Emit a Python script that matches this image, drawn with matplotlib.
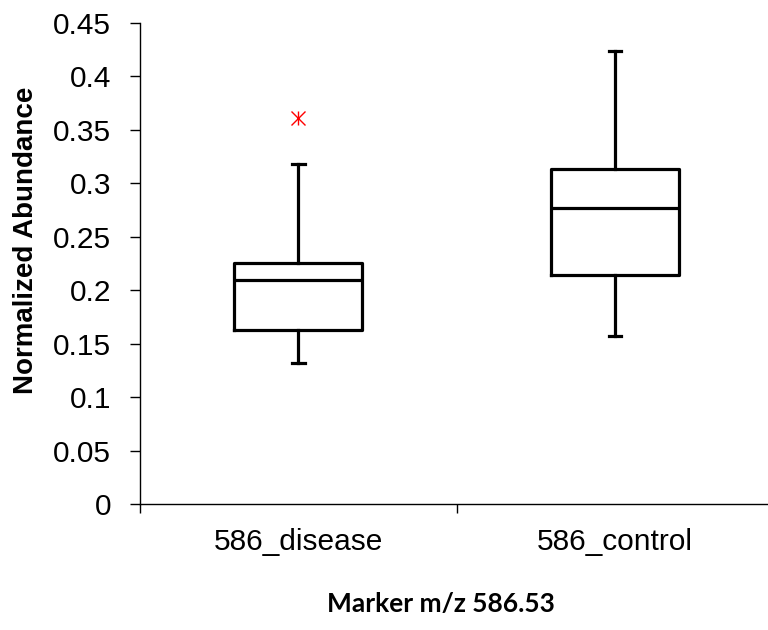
import matplotlib
matplotlib.use("Agg")
import matplotlib.pyplot as plt
from matplotlib.ticker import FixedLocator, NullFormatter, FixedFormatter

# ---- data ----
groups = ["586_disease", "586_control"]
whisker_low = [0.132, 0.157]
q1 = [0.163, 0.214]
median = [0.210, 0.277]
q3 = [0.2255, 0.313]
whisker_high = [0.318, 0.424]
outliers = [[0.361], []]
y_ticks = [0, 0.05, 0.1, 0.15, 0.2, 0.25, 0.3, 0.35, 0.4, 0.45]
y_tick_labels = ["0", "0.05", "0.1", "0.15", "0.2", "0.25", "0.3", "0.35", "0.4", "0.45"]

plt.rcParams["font.family"] = ["Liberation Sans", "DejaVu Sans"]

fig = plt.figure(figsize=(7.68, 6.30), dpi=100)
ax = fig.add_axes([140 / 768, 1 - 504.3 / 630, 1 - 140 / 768, (504.3 - 22.7) / 630])

stats = []
for i, g in enumerate(groups):
    stats.append(dict(label=g, whislo=whisker_low[i], q1=q1[i], med=median[i],
                      q3=q3[i], whishi=whisker_high[i], fliers=[]))

positions = list(range(len(groups)))
lw = 2.3
ax.bxp(stats, positions=positions, widths=0.404, capwidths=0.04, showfliers=False,
       boxprops=dict(color="black", linewidth=lw),
       medianprops=dict(color="black", linewidth=lw),
       whiskerprops=dict(color="black", linewidth=lw),
       capprops=dict(color="black", linewidth=lw),
       manage_ticks=False)

for i, fl in enumerate(outliers):
    if fl:
        ax.plot([positions[i]] * len(fl), fl, linestyle="none", marker="x",
                markersize=10, markeredgewidth=1.0, color="red", zorder=5)
        ax.plot([positions[i]] * len(fl), fl, linestyle="none", marker="|",
                markersize=10, markeredgewidth=1.0, color="red", zorder=5)

ax.set_ylim(0, 0.45)
ax.set_xlim(-0.5, -0.5 + 628 / 316.7)

ax.set_yticks(y_ticks)
ax.set_yticklabels(y_tick_labels, fontsize=21.5)
ax.tick_params(axis="y", direction="out", length=7.2, width=1, pad=13.5, colors="black")

# category boundaries as major ticks, category names as minor ticks
ax.xaxis.set_major_locator(FixedLocator([-0.5, 0.5]))
ax.xaxis.set_major_formatter(NullFormatter())
ax.xaxis.set_minor_locator(FixedLocator(positions))
ax.xaxis.set_minor_formatter(FixedFormatter(groups))
ax.tick_params(axis="x", which="major", direction="out", length=6.5, width=1)
ax.tick_params(axis="x", which="minor", length=0, pad=17, labelsize=21.5)

for s in ["top", "right"]:
    ax.spines[s].set_visible(False)
for s in ["left", "bottom"]:
    ax.spines[s].set_linewidth(1)
    ax.spines[s].set_color("black")

fig.text(26 / 768, 1 - 240 / 630, "Normalized Abundance", rotation=90,
         ha="center", va="center", fontsize=20, fontweight="bold")
fig.text(441 / 768, 1 - 611.7 / 630, "Marker m/z 586.53", ha="center", va="baseline",
         fontsize=19, fontweight="bold", family=["Lato", "DejaVu Sans"])

fig.savefig("out.png", dpi=100)
